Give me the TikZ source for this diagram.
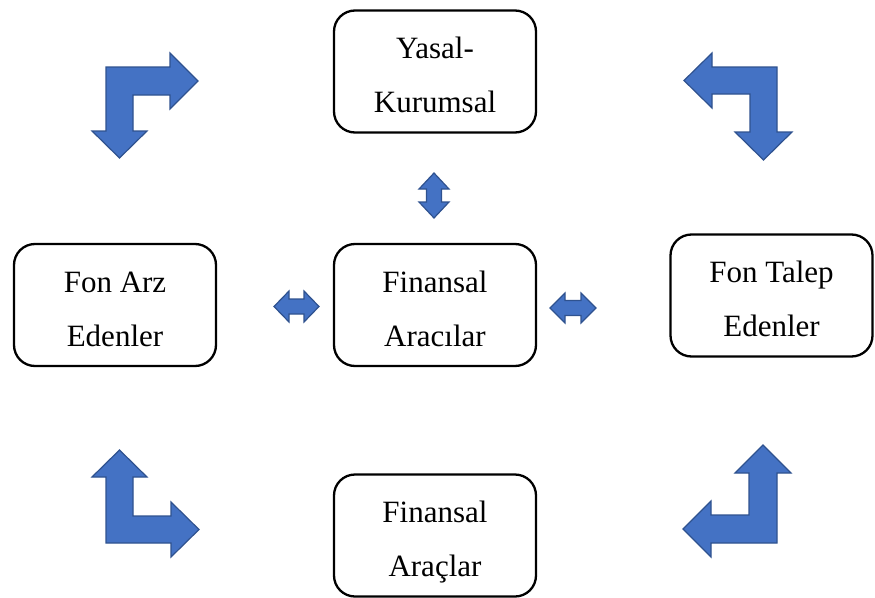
\documentclass[tikz,border=0pt]{standalone}
\usepackage{fontspec}
\setmainfont{Liberation Serif}
\newfontfamily\boxfont{Liberation Serif}
\newcommand\mytopst{\rule{0pt}{35pt}}
\newcommand\mybotst{\rule[-7pt]{0pt}{0pt}}
\definecolor{arrfill}{HTML}{4472C4}
\definecolor{arrline}{HTML}{2F528F}
\tikzset{
  roundbox/.style={draw=black, line width=2.3pt, rounded corners=21pt, fill=white,
    minimum width=202pt, minimum height=122pt, align=center, inner sep=0pt,
    font=\boxfont\fontsize{31}{54}\selectfont},
  blockarrow/.style={fill=arrfill, draw=arrline, line width=1.2pt, line join=miter}
}
\begin{document}
\begin{tikzpicture}[x=1pt,y=-1pt]
\useasboundingbox (0,0) rectangle (875,597);
\clip (0,0) rectangle (875,597);
% boxes
\node[roundbox] (yasal) at (435,71.5) {\mytopst Yasal-\\Kurumsal\mybotst};
\node[roundbox] (arz) at (115,305) {\mytopst Fon Arz\\Edenler\mybotst};
\node[roundbox] (aracilar) at (435,305) {\mytopst Finansal\\Aracılar\mybotst};
\node[roundbox] (talep) at (771.5,295.5) {\mytopst Fon Talep\\Edenler\mybotst};
\node[roundbox] (araclar) at (435,535.5) {\mytopst Finansal\\Araçlar\mybotst};
% bent arrows
\draw[blockarrow] (106,67) -- (170,67) -- (170,53) -- (198,81) -- (170,109) -- (170,95) -- (133,95) -- (133,131) -- (147,131) -- (119.5,158) -- (92,131) -- (106,131) -- cycle;
\draw[blockarrow] (777,67) -- (712,67) -- (712,53) -- (684,80.5) -- (712,108) -- (712,94) -- (750,94) -- (750,132) -- (735,132) -- (763.5,160) -- (792,132) -- (777,132) -- cycle;
\draw[blockarrow] (106,543) -- (106,477) -- (92,477) -- (119.5,450) -- (147,477) -- (133,477) -- (133,516) -- (171,516) -- (171,502) -- (199,529.5) -- (171,557) -- (171,543) -- cycle;
\draw[blockarrow] (777,543) -- (777,473) -- (791,473) -- (763,445) -- (735,473) -- (749,473) -- (749,515) -- (711,515) -- (711,501) -- (683,529) -- (711,557) -- (711,543) -- cycle;
% double arrows
\draw[blockarrow] (434,173) -- (449,189) -- (441.5,189) -- (441.5,202) -- (449,202) -- (434,218) -- (419,202) -- (426.5,202) -- (426.5,189) -- (419,189) -- cycle;
\draw[blockarrow] (274,306.5) -- (289,291) -- (289,299) -- (304,299) -- (304,291) -- (319,306.5) -- (304,322) -- (304,314) -- (289,314) -- (289,322) -- cycle;
\draw[blockarrow] (550,308) -- (565,293) -- (565,300.5) -- (581,300.5) -- (581,293) -- (596,308) -- (581,323) -- (581,315.5) -- (565,315.5) -- (565,323) -- cycle;
\end{tikzpicture}
\end{document}
